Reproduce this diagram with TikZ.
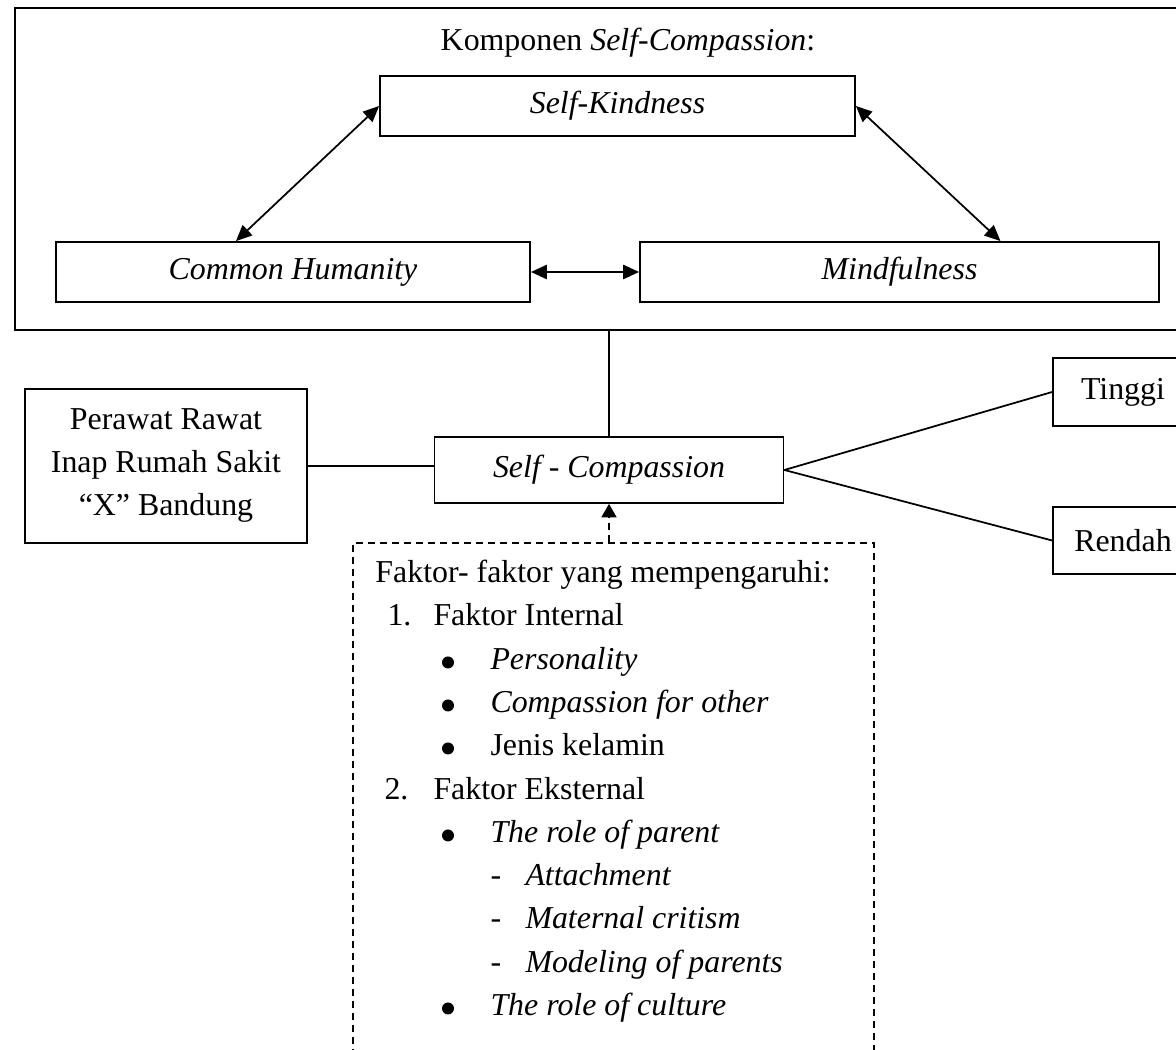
\documentclass[tikz,border=0pt]{standalone}
\usepackage{fontspec}
\setmainfont{Liberation Serif}
\usetikzlibrary{arrows.meta,calc}
\begin{document}
\begin{tikzpicture}[x=0.4pt,y=-0.4pt,
  every node/.style={font=\fontsize{12.75}{17.2}\selectfont},
  box/.style={draw, line width=0.7pt, inner sep=0pt, align=center},
  txt/.style={inner sep=0pt, anchor=base west},
  dot/.style={circle, fill, inner sep=0pt, minimum size=4.8pt},
  conn/.style={line width=0.7pt},
  biarrow/.style={line width=0.7pt, {Triangle[length=6.4pt,width=5.6pt]}-{Triangle[length=6.4pt,width=5.6pt]}},
  dashpat/.style={dash pattern=on 2.8pt off 2pt}]
\useasboundingbox (0,0) rectangle (1176,1050);
\clip (0,0) rectangle (1176,1050);

% outer container
\node[box, minimum width=472pt, minimum height=128.8pt] (outer) at (605,169) {};
\node[inner sep=0pt, anchor=base] (title) at (628,51) {Komponen \textit{Self-Compassion}:};

\node[box, minimum width=190pt, minimum height=24pt] (sk) at (617.5,106) {\textit{Self-Kindness}};
\node[box, minimum width=189.6pt, minimum height=24pt] (ch) at (293,272) {\textit{Common Humanity}};
\node[box, minimum width=207.6pt, minimum height=24pt] (mf) at (899.5,272) {\textit{Mindfulness}};

\draw[biarrow] (sk.west) -- ($(ch.north west)!0.38!(ch.north east)$);
\draw[biarrow] (sk.east) -- ($(mf.north west)!0.694!(mf.north east)$);
\draw[biarrow, line width=1.1pt] (ch.east) -- (mf.west);

% middle row
\node[box, minimum width=139.6pt, minimum height=26.4pt] (sc) at (609,470) {\textit{Self - Compassion}};
\node[box, minimum width=112.8pt, minimum height=61.6pt] (pr) at (166,466) {Perawat Rawat\\Inap Rumah Sakit\\``X'' Bandung};
\node[box, minimum width=56pt, minimum height=27.2pt] (ti) at (1123,392) {Tinggi};
\node[box, minimum width=56pt, minimum height=26.8pt] (re) at (1123,540.5) {Rendah};

\draw[conn] (sc.north) -- (sc.north |- outer.south);
\draw[conn] (pr.east) -- (pr.east -| sc.west);
\draw[conn] (sc.east) -- (ti.west);
\draw[conn] (sc.east) -- (re.west);

% factors box
\node[draw, line width=0.7pt, dashpat, minimum width=208.4pt, minimum height=216pt, inner sep=0pt] (fac) at (613.5,813) {};
\draw[conn, dashpat, -{Triangle[length=5.4pt,width=6pt]}] (sc.south |- fac.north) -- (sc.south);

\node[txt] (f0) at (375,583) {Faktor- faktor yang mempengaruhi:};
\node[txt] (n1) at (387,626) {1.};
\node[txt] (t1) at (433,626) {Faktor Internal};
\node[dot] (b1) at (448,662.5) {};
\node[txt] (p1) at (490,670) {\textit{Personality}};
\node[dot] (b2) at (448,705.5) {};
\node[txt] (p2) at (490,713) {\textit{Compassion for other}};
\node[dot] (b3) at (448,748.5) {};
\node[txt] (p3) at (490,756) {Jenis kelamin};
\node[txt] (n2) at (384,800) {2.};
\node[txt] (t2) at (433,800) {Faktor Eksternal};
\node[dot] (b4) at (448,835.5) {};
\node[txt] (p4) at (490,843) {\textit{The role of parent}};
\node[txt] (d1) at (490,886) {-};
\node[txt] (q1) at (525,886) {\textit{Attachment}};
\node[txt] (d2) at (490,929) {-};
\node[txt] (q2) at (525,929) {\textit{Maternal critism}};
\node[txt] (d3) at (490,973) {-};
\node[txt] (q3) at (525,973) {\textit{Modeling of parents}};
\node[dot] (b5) at (448,1008.5) {};
\node[txt] (p5) at (490,1016) {\textit{The role of culture}};
\end{tikzpicture}
\end{document}
